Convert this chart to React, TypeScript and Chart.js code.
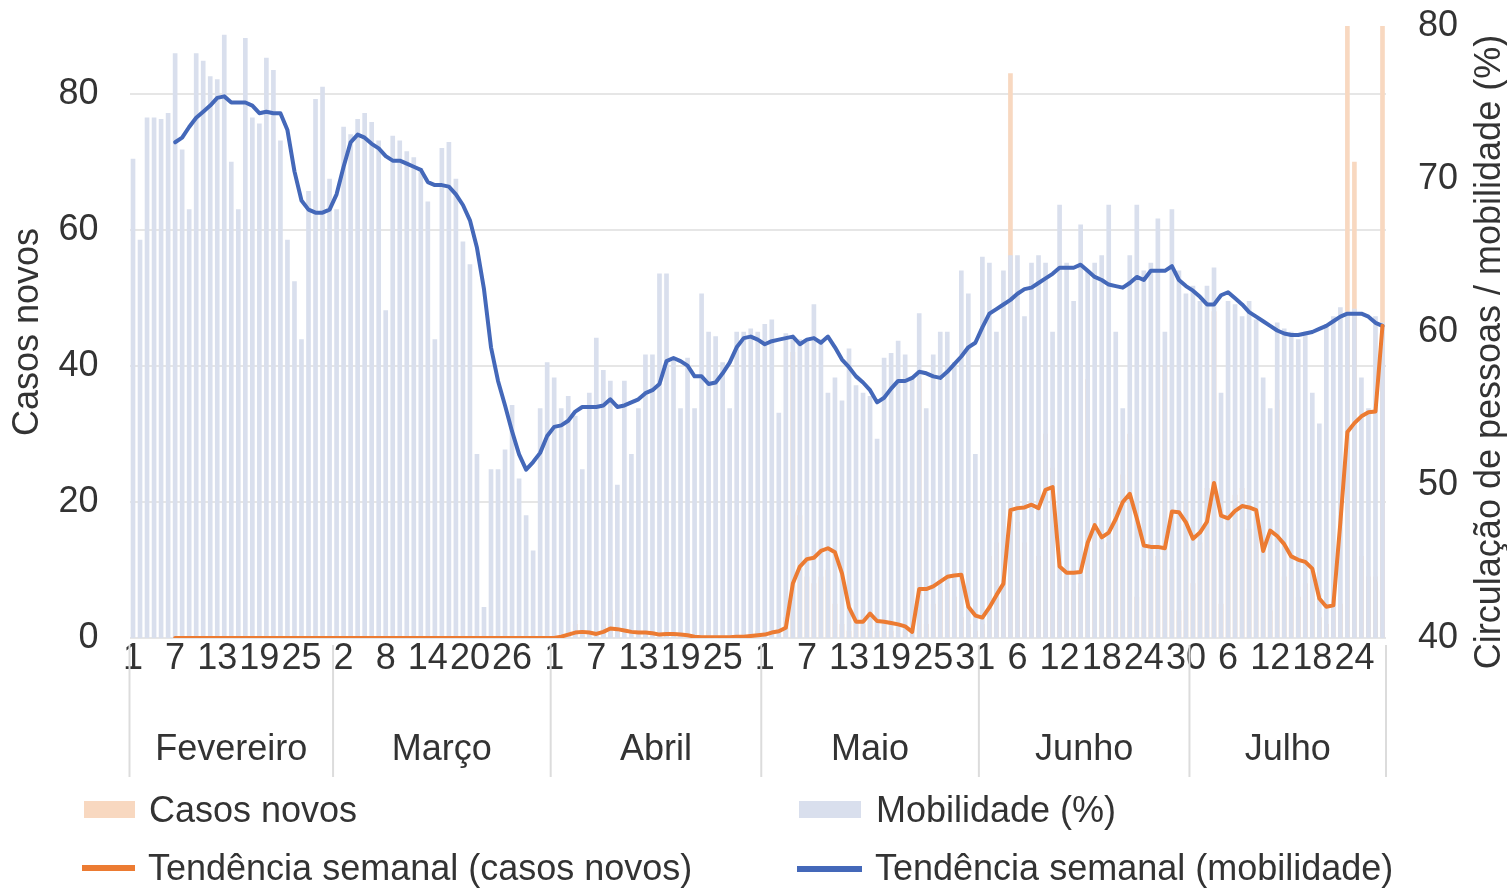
import React, { useEffect, useRef } from 'react';
import { Chart, registerables } from 'chart.js';

Chart.register(...registerables);

// ---- categories ----
const monthNames = ['Fevereiro', 'Março', 'Abril', 'Maio', 'Junho', 'Julho'];
const monthDays = [29, 31, 30, 31, 30, 28];
const dayLabels: string[] = [];
monthDays.forEach((n) => {
  for (let d = 1; d <= n; d++) dayLabels.push(String(d));
});
const tickEvery = 6;

// ---- Mobilidade (%) daily ----
const mobilityFeb = [71.3, 66, 74, 74, 73.9, 74.3, 78.2, 71.9, 68, 78.2, 77.7, 76.7, 76.5, 79.4, 71.1, 68, 79.2, 74, 73.6, 77.9, 77.1, 72.5, 66, 63.3, 59.5, 69.2, 75.2, 76, 70];
const mobilityMar = [68, 73.4, 72.9, 73.9, 74.3, 73.7, 72.5, 61.4, 72.8, 72.5, 71.8, 71.4, 70.7, 68.5, 59.5, 72, 72.4, 70, 65.9, 64.4, 52, 42, 51, 51, 52.3, 55.2, 50.4, 48, 45.7, 55, 58];
const mobilityApr = [57, 55, 55.8, 54.5, 51, 56, 59.6, 57.5, 56.8, 50, 56.8, 52, 55, 58.5, 58.5, 63.8, 63.8, 58.3, 55, 58.3, 55, 62.5, 60, 59.7, 58, 55, 60, 60, 60.2, 60];
const mobilityMay = [60.5, 60.8, 54.7, 59.9, 59.6, 59.5, 59.4, 61.8, 59.5, 56, 57, 55.5, 58.9, 56.5, 56, 55.8, 53, 58.3, 58.6, 59.4, 58.5, 57, 61.2, 55, 58.5, 60, 60, 58, 64, 62.5, 52];
const mobilityJun = [64.9, 64.5, 60, 64, 65, 65, 61, 64.5, 65, 64.5, 60, 68.3, 64.5, 62, 67, 64, 64.5, 65, 68.3, 60, 55, 65, 68.3, 64, 64.5, 67.4, 60, 68, 64, 62.5];
const mobilityJul = [63, 62, 63, 64.2, 56, 62, 61.8, 61, 62, 60.8, 57, 55, 60.6, 60.2, 60, 59.5, 60, 56, 54, 60.5, 61, 61.6, 61.3, 61.5, 57, 55, 61, 60.6];

// ---- Tendência semanal (mobilidade) ----
const mobTrendFeb = [null, null, null, null, null, null, 72.4, 72.7, 73.4, 74.0, 74.4, 74.8, 75.3, 75.4, 75.0, 75.0, 75.0, 74.8, 74.3, 74.4, 74.3, 74.3, 73.2, 70.5, 68.6, 68.0, 67.8, 67.8, 68.0];
const mobTrendMar = [69.0, 70.8, 72.4, 72.9, 72.7, 72.3, 72.0, 71.5, 71.2, 71.2, 71.0, 70.8, 70.6, 69.8, 69.6, 69.6, 69.5, 69.0, 68.3, 67.3, 65.5, 62.8, 59.0, 56.8, 55.2, 53.5, 52.0, 51.0, 51.5, 52.1, 53.2];
const mobTrendApr = [53.8, 53.9, 54.2, 54.8, 55.1, 55.1, 55.1, 55.2, 55.6, 55.1, 55.2, 55.4, 55.6, 56.0, 56.2, 56.6, 58.1, 58.3, 58.1, 57.8, 57.1, 57.1, 56.6, 56.7, 57.3, 58.0, 59.0, 59.6, 59.7, 59.5];
const mobTrendMay = [59.2, 59.4, 59.5, 59.6, 59.7, 59.2, 59.5, 59.6, 59.3, 59.7, 59.0, 58.2, 57.7, 57.1, 56.7, 56.2, 55.4, 55.7, 56.3, 56.8, 56.8, 57.0, 57.4, 57.3, 57.1, 57.0, 57.4, 57.9, 58.4, 59.0, 59.3];
const mobTrendJun = [60.3, 61.2, 61.5, 61.8, 62.1, 62.5, 62.8, 62.9, 63.2, 63.5, 63.8, 64.2, 64.2, 64.2, 64.4, 64.0, 63.6, 63.4, 63.1, 63.0, 62.9, 63.2, 63.6, 63.4, 64.0, 64.0, 64.0, 64.3, 63.4, 63.0];
const mobTrendJul = [62.7, 62.3, 61.8, 61.8, 62.4, 62.6, 62.2, 61.8, 61.3, 61.0, 60.7, 60.4, 60.1, 59.9, 59.8, 59.8, 59.9, 60.0, 60.2, 60.4, 60.7, 61.0, 61.2, 61.2, 61.2, 61.0, 60.6, 60.4];

// ---- Casos novos daily ----
const casesFeb = [0, 0, 0, 0, 0, 0, 0, 0, 0, 0, 0, 0, 0, 0, 0, 0, 0, 0, 0, 0, 0, 0, 0, 0, 0, 0, 0, 0, 0];
const casesMar = [0, 0, 0, 0, 0, 0, 0, 0, 0, 0, 0, 0, 0, 0, 0, 0, 0, 0, 0, 0, 0, 0, 0, 0, 0, 0, 0, 0, 0, 0, 0];
const casesApr = [0, 0, 1, 2, 1, 0, 0, 2, 4, 1, 0, 0, 0, 1, 0, 0, 1, 0, 0, 0, 0, 0, 1, 0, 0, 0, 0, 0, 0, 1];
const casesMay = [0, 1, 0, 3, 42, 18, 9, 8, 9, 10, 5, 2, 1, 3, 2, 4, 1, 2, 1, 0, 1, 0, 38, 2, 5, 7, 8, 6, 3, 2, 1];
const casesJun = [2, 12, 14, 13, 83, 17, 14, 10, 12, 30, 25, 4, 9, 7, 8, 38, 16, 22, 14, 20, 24, 30, 6, 10, 14, 12, 40, 10, 4, 20];
const casesJul = [8, 14, 22, 48, 5, 18, 21, 22, 16, 18, 14, 4, 35, 9, 10, 6, 8, 8, 3, 2, 6, 5, 92, 70, 12, 9, 9, 95];

// ---- Tendência semanal (casos novos) ----
const caseTrendFeb = [null, null, null, null, null, null, 0, 0, 0, 0, 0, 0, 0, 0, 0, 0, 0, 0, 0, 0, 0, 0, 0, 0, 0, 0, 0, 0, 0];
const caseTrendMar = [0, 0, 0, 0, 0, 0, 0, 0, 0, 0, 0, 0, 0, 0, 0, 0, 0, 0, 0, 0, 0, 0, 0, 0, 0, 0, 0, 0, 0, 0, 0];
const caseTrendApr = [0, 0.2, 0.5, 0.8, 0.9, 0.8, 0.6, 0.9, 1.4, 1.3, 1.1, 0.9, 0.8, 0.8, 0.7, 0.5, 0.6, 0.6, 0.5, 0.4, 0.2, 0.1, 0.1, 0.1, 0.1, 0.1, 0.2, 0.2, 0.3, 0.4];
const caseTrendMay = [0.5, 0.8, 1.0, 1.5, 8.0, 10.5, 11.6, 11.8, 12.8, 13.2, 12.6, 9.5, 4.5, 2.4, 2.4, 3.6, 2.5, 2.4, 2.2, 2.0, 1.7, 0.9, 7.2, 7.2, 7.6, 8.3, 9.0, 9.2, 9.3, 4.6, 3.3];
const caseTrendJun = [3.0, 4.5, 6.3, 8.0, 18.8, 19.1, 19.2, 19.6, 19.1, 21.8, 22.2, 10.5, 9.6, 9.6, 9.7, 14.0, 16.6, 14.8, 15.5, 17.5, 20.0, 21.2, 17.6, 13.6, 13.4, 13.4, 13.2, 18.6, 18.5, 17.0];
const caseTrendJul = [14.6, 15.5, 17.1, 22.8, 18.0, 17.6, 18.7, 19.4, 19.2, 18.8, 12.8, 15.8, 15.0, 13.8, 12.0, 11.5, 11.2, 10.2, 5.8, 4.6, 4.8, 17.0, 30.3, 31.6, 32.6, 33.2, 33.3, 45.9];

const mobility = [...mobilityFeb, ...mobilityMar, ...mobilityApr, ...mobilityMay, ...mobilityJun, ...mobilityJul];
const mobilityTrend = [...mobTrendFeb, ...mobTrendMar, ...mobTrendApr, ...mobTrendMay, ...mobTrendJun, ...mobTrendJul];
const casesDaily = [...casesFeb, ...casesMar, ...casesApr, ...casesMay, ...casesJun, ...casesJul];
const casesTrend = [...caseTrendFeb, ...caseTrendMar, ...caseTrendApr, ...caseTrendMay, ...caseTrendJun, ...caseTrendJul];

const leftTitle = 'Casos novos';
const rightTitle = 'Circulação de pessoas / mobilidade (%)';

const FONT = '"Liberation Sans", Arial, Helvetica, sans-serif';
const TEXT = '#333333';
const ORANGE = '#ec7b32';
const BLUE = '#4468b9';
const BAR_BLUE = '#d9dfed';
const BAR_PEACH = '#f8d8c0';

const overlayPlugin = {
  id: 'overlay',
  afterDraw(chart: any) {
    const { ctx, chartArea } = chart;
    const x = chart.scales.x;
    const half = (x.getPixelForValue(1) - x.getPixelForValue(0)) / 2;
    ctx.save();
    let start = 0;
    const bounds: number[] = [x.getPixelForValue(0) - half];
    monthDays.forEach((n) => {
      start += n;
      bounds.push(x.getPixelForValue(start - 1) + half);
    });
    ctx.strokeStyle = '#dcdcdc';
    ctx.lineWidth = 2;
    bounds.forEach((b) => {
      ctx.beginPath();
      ctx.moveTo(b, chartArea.bottom + 7);
      ctx.lineTo(b, chartArea.bottom + 139);
      ctx.stroke();
    });
    ctx.fillStyle = TEXT;
    ctx.font = `36px ${FONT}`;
    ctx.textAlign = 'center';
    ctx.textBaseline = 'middle';
    monthNames.forEach((m, i) => {
      ctx.fillText(m, (bounds[i] + bounds[i + 1]) / 2, chartArea.bottom + 112);
    });
    ctx.translate(1490, 352);
    ctx.rotate(-Math.PI / 2);
    ctx.fillText(rightTitle, 0, 0);
    ctx.restore();
  },
};

export default function App() {
  const ref = useRef<HTMLCanvasElement | null>(null);

  useEffect(() => {
    if (!ref.current) return;
    Chart.defaults.font.family = FONT;
    const chart = new Chart(ref.current, {
      type: 'bar',
      data: {
        labels: dayLabels,
        datasets: [
          {
            type: 'line',
            label: 'Tendência semanal (casos novos)',
            data: casesTrend as any,
            yAxisID: 'y',
            borderColor: ORANGE,
            backgroundColor: ORANGE,
            borderWidth: 4,
            pointRadius: 0,
            borderJoinStyle: 'round',
            borderCapStyle: 'round',
            order: 0,
          },
          {
            type: 'line',
            label: 'Tendência semanal (mobilidade)',
            data: mobilityTrend as any,
            yAxisID: 'y1',
            borderColor: BLUE,
            backgroundColor: BLUE,
            borderWidth: 4,
            pointRadius: 0,
            borderJoinStyle: 'round',
            borderCapStyle: 'round',
            order: 1,
          },
          {
            type: 'bar',
            label: 'Mobilidade (%)',
            data: mobility,
            yAxisID: 'y1',
            backgroundColor: BAR_BLUE,
            barThickness: 4,
            grouped: false,
            order: 2,
          },
          {
            type: 'bar',
            label: 'Casos novos',
            data: casesDaily,
            yAxisID: 'y',
            backgroundColor: BAR_PEACH,
            barThickness: 4,
            grouped: false,
            order: 3,
          },
        ] as any,
      },
      options: {
        animation: false,
        responsive: false,
        devicePixelRatio: 1,
        layout: { padding: { top: 0, bottom: 0, left: 0, right: 0 } },
        plugins: { legend: { display: false }, tooltip: { enabled: false } },
        scales: {
          x: {
            type: 'category',
            grid: { display: false, drawTicks: false },
            border: { display: false },
            ticks: {
              autoSkip: false,
              maxRotation: 0,
              minRotation: 0,
              padding: 3,
              color: TEXT,
              font: { size: 36, lineHeight: 1 },
              callback: (_v: any, i: number) => (i % tickEvery === 0 ? dayLabels[i] : ''),
            },
            afterFit: (s: any) => {
              s.height = 251;
            },
          },
          y: {
            position: 'left',
            min: 0,
            max: 90,
            ticks: { stepSize: 20, includeBounds: false, padding: 31, color: TEXT, font: { size: 36 } },
            grid: { color: '#e6e6e6', lineWidth: 2, drawTicks: false },
            border: { display: false },
            title: { display: true, text: leftTitle, color: TEXT, font: { size: 36 }, padding: { top: 6, bottom: 0 } },
            afterFit: (s: any) => {
              s.width = 129.5;
              s.paddingTop = 26;
            },
          },
          y1: {
            position: 'right',
            min: 40,
            max: 80,
            ticks: { stepSize: 10, padding: 32, color: TEXT, font: { size: 36 } },
            grid: { display: false, drawTicks: false },
            border: { display: false },
            afterFit: (s: any) => {
              s.width = 121;
              s.paddingTop = 26;
            },
          },
        },
      } as any,
      plugins: [overlayPlugin],
    });
    return () => chart.destroy();
  }, []);

  const text: React.CSSProperties = {
    position: 'absolute',
    fontFamily: FONT,
    fontSize: 36,
    lineHeight: '40px',
    color: TEXT,
    whiteSpace: 'nowrap',
  };

  return (
    <div style={{ position: 'fixed', left: 0, top: 0, width: 1507, height: 889, background: '#fff', overflow: 'hidden' }}>
      <canvas ref={ref} width={1507} height={889} style={{ position: 'absolute', left: 0, top: 0, width: 1507, height: 889 }} />
      <div style={{ position: 'absolute', left: 84, top: 801, width: 51, height: 17, background: BAR_PEACH }} />
      <div style={{ ...text, left: 149, top: 790 }}>Casos novos</div>
      <div style={{ position: 'absolute', left: 82, top: 865, width: 53, height: 6, background: ORANGE }} />
      <div style={{ ...text, left: 148, top: 848 }}>Tendência semanal (casos novos)</div>
      <div style={{ position: 'absolute', left: 799, top: 801, width: 62, height: 17, background: BAR_BLUE }} />
      <div style={{ ...text, left: 876, top: 790 }}>Mobilidade (%)</div>
      <div style={{ position: 'absolute', left: 797, top: 866, width: 65, height: 6, background: BLUE }} />
      <div style={{ ...text, left: 875, top: 848 }}>Tendência semanal (mobilidade)</div>
    </div>
  );
}
